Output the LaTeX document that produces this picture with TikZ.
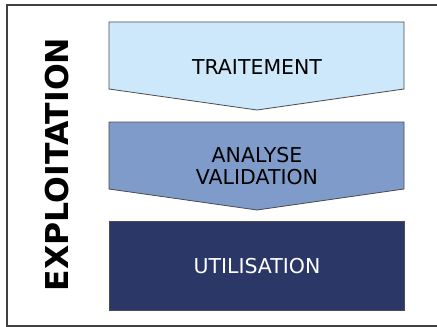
\documentclass[tikz,border=0pt]{standalone}
\usepackage{fontspec}
\setmainfont{DejaVu Sans}
\begin{document}
\begin{tikzpicture}[x=1pt,y=-1pt,
  frameline/.style={draw=black!75,line width=1.3pt},
  boxline/.style={draw=black!70,line width=0.8pt},
  boxtext/.style={font=\fontsize{20.5}{22}\selectfont,align=center,inner sep=0pt},
  ]
\definecolor{lightbox}{HTML}{CCE8FA}
\definecolor{midbox}{HTML}{7F9BC9}
\definecolor{darkbox}{HTML}{2B3766}
\useasboundingbox (0,0) rectangle (437,327);
\fill[white] (0,0) rectangle (437,327);
\draw[frameline] (440,5) -- (7,5) -- (7,326) -- (440,326);
% shapes
\draw[boxline,fill=lightbox] (109,22) -- (404,22) -- (404,89) -- (257,110) -- (109,89) -- cycle;
\draw[boxline,fill=midbox] (109,122) -- (404,122) -- (404,189) -- (257,210) -- (109,189) -- cycle;
\draw[boxline,fill=darkbox] (109,221) rectangle (404,310);
% texts
\node[boxtext] (traitement) at (257,67) {TRAITEMENT};
\node[boxtext] (analyse) at (257,166) {ANALYSE\\VALIDATION};
\node[boxtext,text=white] (utilisation) at (257,266) {UTILISATION};
\node[font=\fontsize{31.5}{31.5}\bfseries,rotate=90,inner sep=0pt] (exploitation) at (57,164.5) {EXPLOITATION};
\end{tikzpicture}
\end{document}
